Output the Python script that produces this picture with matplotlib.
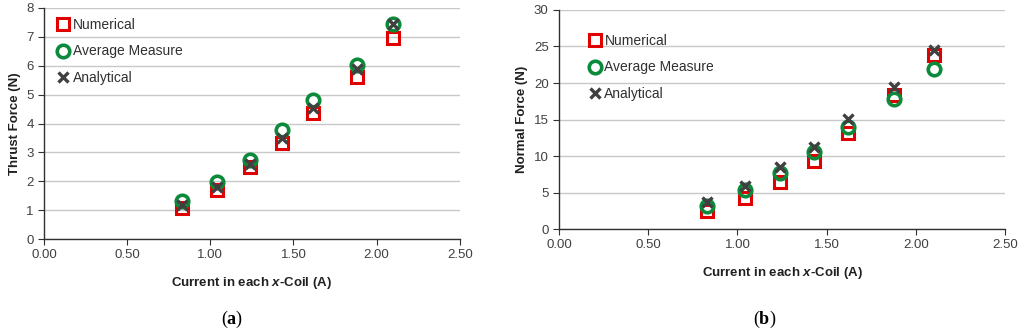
import matplotlib
matplotlib.use("Agg")
import matplotlib.pyplot as plt

# Current values (A) and force readings
current = [0.83, 1.04, 1.24, 1.43, 1.62, 1.88, 2.10]

thrust_numerical = [1.09, 1.71, 2.49, 3.32, 4.38, 5.62, 6.97]
thrust_measured = [1.32, 1.97, 2.74, 3.76, 4.83, 6.02, 7.45]
thrust_analytical = [1.17, 1.80, 2.60, 3.50, 4.55, 5.90, 7.45]

normal_numerical = [2.5, 4.3, 6.5, 9.3, 13.1, 18.3, 23.9]
normal_measured = [3.2, 5.3, 7.7, 10.6, 14.0, 17.8, 21.9]
normal_analytical = [3.7, 5.9, 8.5, 11.3, 15.1, 19.4, 24.5]

x_ticks = [0.0, 0.5, 1.0, 1.5, 2.0, 2.5]
series_names = ["Numerical", "Average Measure", "Analytical"]

plt.rcParams["font.family"] = ["Liberation Sans", "DejaVu Sans"]
plt.rcParams["mathtext.fontset"] = "custom"
plt.rcParams["mathtext.it"] = "Liberation Sans:italic:bold"
plt.rcParams["mathtext.bf"] = "Liberation Serif:bold"
plt.rcParams["mathtext.rm"] = "Liberation Serif"

TICK_COLOR = "#404040"
GRID_COLOR = "#c8c8c8"


def draw_panel(ax, y_series, ylim, ystep, ylabel, legend_anchor):
    styles = [
        dict(marker="s", mfc="none", mec="#e00000", mew=2.2, ms=8),
        dict(marker="o", mfc="none", mec="#0a8a3a", mew=2.6, ms=9),
        dict(marker="x", color="#404040", mew=2.4, ms=7.5),
    ]
    for vals, name, st in zip(y_series, series_names, styles):
        ax.plot(current, vals, linestyle="none", label=name, **st)

    ax.set_xlim(0, 2.5)
    ax.set_ylim(*ylim)
    ax.set_xticks(x_ticks)
    ax.set_xticklabels([f"{t:.2f}" for t in x_ticks])
    ax.set_yticks(range(ylim[0], ylim[1] + 1, ystep))
    ax.grid(axis="y", color=GRID_COLOR, linewidth=1)
    ax.set_axisbelow(True)
    for side in ["top", "right"]:
        ax.spines[side].set_visible(False)
    for side in ["left", "bottom"]:
        ax.spines[side].set_color("#303030")
        ax.spines[side].set_linewidth(1)
    ax.tick_params(axis="both", labelsize=9.5, colors="#303030",
                   labelcolor=TICK_COLOR, length=4, direction="out")

    ax.set_xlabel(r"Current in each $x$-Coil (A)", fontsize=9.5,
                  fontweight="bold", labelpad=10, color="#202020")
    ax.set_ylabel(ylabel, fontsize=9.5, fontweight="bold", color="#202020")

    # legend rows sit ~27 px apart in the original
    leg = ax.legend(loc="upper left", bbox_to_anchor=legend_anchor,
                    frameon=False, fontsize=10, handlelength=0.8,
                    handletextpad=0.3, labelspacing=0.88, borderaxespad=0)
    for txt in leg.get_texts():
        txt.set_color("#303030")


fig = plt.figure(figsize=(10.24, 3.32), dpi=100)
ax_a = fig.add_axes([0.043, 0.280, 0.406, 0.696])
ax_b = fig.add_axes([0.546, 0.310, 0.4355, 0.660])

draw_panel(ax_a, [thrust_numerical, thrust_measured, thrust_analytical],
           (0, 8), 1, "Thrust Force (N)", (0.02, 0.98))
draw_panel(ax_b, [normal_numerical, normal_measured, normal_analytical],
           (0, 30), 5, "Normal Force (N)", (0.055, 0.915))

fig.text(0.227, 0.025, r"($\mathbf{a}$)", fontsize=13,
         family="Liberation Serif", ha="center")
fig.text(0.747, 0.025, r"($\mathbf{b}$)", fontsize=13,
         family="Liberation Serif", ha="center")

fig.savefig("out.png", dpi=100)
